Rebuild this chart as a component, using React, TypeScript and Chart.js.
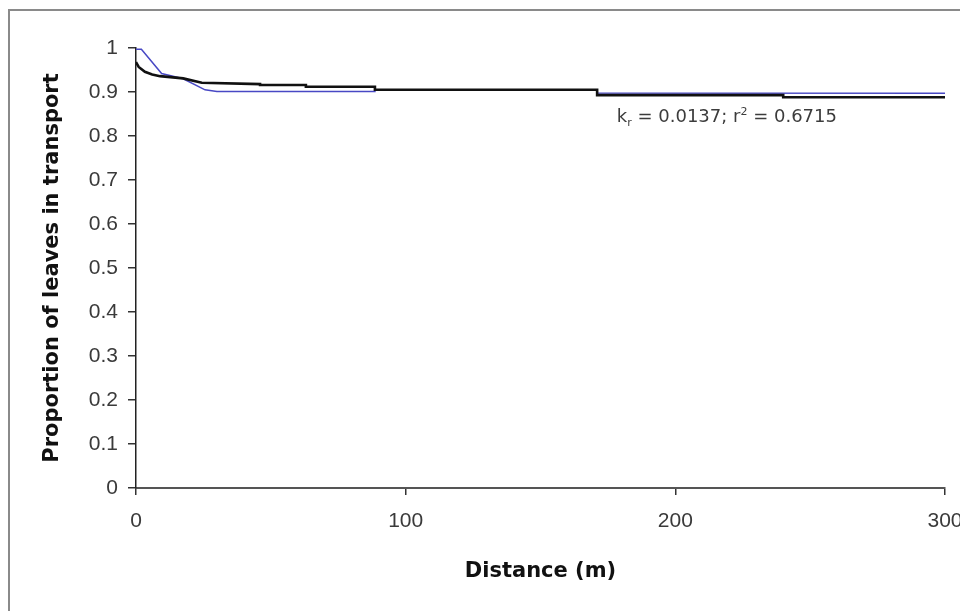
import React, { useEffect, useRef } from "react";
import { Chart, registerables } from "chart.js";

Chart.register(...registerables);

// Blue series (observed)
const blueDistance = [0, 2, 9.5, 17.5, 25.6, 30, 88.6, 88.6, 171, 171, 300];
const blueProportion = [0.997, 0.997, 0.942, 0.93, 0.905, 0.901, 0.901, 0.904, 0.904, 0.898, 0.897];

// Black series (model fit)
const blackDistance = [0, 1, 3.3, 6, 8.9, 17.5, 24.4, 46, 46, 63, 63, 88.6, 88.6, 171, 171, 240, 240, 300];
const blackProportion = [0.968, 0.957, 0.946, 0.94, 0.936, 0.931, 0.921, 0.918, 0.916, 0.916, 0.912, 0.912, 0.905, 0.905, 0.893, 0.893, 0.888, 0.888];

const xTicks = [0, 100, 200, 300];
const yTicks = [0, 0.1, 0.2, 0.3, 0.4, 0.5, 0.6, 0.7, 0.8, 0.9, 1];

const xTitle = "Distance (m)";
const yTitle = "Proportion of leaves in transport";

const annotationX = 178.3;
const annotationY = 0.842;
const annotationParts = { k: "k", kSub: "r", mid: " = 0.0137; r", sup: "2", end: " = 0.6715" };

const annotationPlugin = {
  id: "fitAnnotation",
  afterDatasetsDraw(chart: any) {
    const { ctx, scales } = chart;
    const x0 = scales.x.getPixelForValue(annotationX);
    const y0 = scales.y.getPixelForValue(annotationY);
    ctx.save();
    ctx.fillStyle = "#3c3c3c";
    ctx.textBaseline = "middle";
    ctx.textAlign = "left";
    const main = "18px 'DejaVu Sans', Arial, sans-serif";
    const small = "11px 'DejaVu Sans', Arial, sans-serif";
    let x = x0;
    ctx.font = main;
    ctx.fillText(annotationParts.k, x, y0);
    x += ctx.measureText(annotationParts.k).width;
    ctx.font = small;
    ctx.fillText(annotationParts.kSub, x, y0 + 6);
    x += ctx.measureText(annotationParts.kSub).width;
    ctx.font = main;
    ctx.fillText(annotationParts.mid, x, y0);
    x += ctx.measureText(annotationParts.mid).width;
    ctx.font = small;
    ctx.fillText(annotationParts.sup, x, y0 - 5);
    x += ctx.measureText(annotationParts.sup).width;
    ctx.font = main;
    ctx.fillText(annotationParts.end, x, y0);
    ctx.restore();
  },
};

export default function App() {
  const canvasRef = useRef<HTMLCanvasElement | null>(null);

  useEffect(() => {
    if (!canvasRef.current) return;
    const tickFont = { family: "'Liberation Sans', Arial, sans-serif", size: 21 };
    const titleFont = { family: "'DejaVu Sans', Arial, sans-serif", size: 21, weight: "bold" as const };
    const chart = new Chart(canvasRef.current, {
      type: "line",
      data: {
        datasets: [
          {
            label: "model",
            data: blackDistance.map((d, i) => ({ x: d, y: blackProportion[i] })),
            borderColor: "#111111",
            borderWidth: 2.6,
            pointRadius: 0,
            tension: 0,
            order: 0,
          },
          {
            label: "observed",
            data: blueDistance.map((d, i) => ({ x: d, y: blueProportion[i] })),
            borderColor: "#4848c4",
            borderWidth: 1.5,
            pointRadius: 0,
            tension: 0,
            order: 1,
          },
        ],
      },
      options: {
        animation: false,
        responsive: false,
        devicePixelRatio: 1,
        layout: { padding: { top: 48, right: 15, left: 0, bottom: 0 } },
        plugins: { legend: { display: false }, tooltip: { enabled: false } },
        scales: {
          x: {
            type: "linear",
            min: 0,
            max: 300,
            afterBuildTicks: (scale: any) => {
              scale.ticks = xTicks.map((v) => ({ value: v }));
            },
            afterFit: (scale: any) => {
              scale.height = 123;
              scale.paddingLeft = 0;
              scale.paddingRight = 0;
            },
            grid: { drawOnChartArea: false, drawTicks: true, tickLength: 7, color: "#333333", lineWidth: 1.5 },
            border: { display: true, color: "#555555", width: 2 },
            ticks: { color: "#3a3a3a", font: tickFont, padding: 14, maxRotation: 0 },
            title: { display: true, text: xTitle, color: "#111111", font: titleFont, padding: { top: 0, bottom: 27 } },
          },
          y: {
            type: "linear",
            min: 0,
            max: 1,
            afterBuildTicks: (scale: any) => {
              scale.ticks = yTicks.map((v) => ({ value: v }));
            },
            afterFit: (scale: any) => {
              scale.width = 136;
              scale.paddingTop = 0;
              scale.paddingBottom = 0;
            },
            grid: { drawOnChartArea: false, drawTicks: true, tickLength: 8, color: "#333333", lineWidth: 1.5 },
            border: { display: true, color: "#222222", width: 1.5 },
            ticks: {
              color: "#3a3a3a",
              font: tickFont,
              padding: 10,
              callback: (v: any) => String(Math.round(Number(v) * 10) / 10),
            },
            title: { display: true, text: yTitle, color: "#111111", font: titleFont, padding: { top: 40, bottom: 0 } },
          },
        },
      },
      plugins: [annotationPlugin],
    });
    return () => chart.destroy();
  }, []);

  return (
    <div style={{ position: "fixed", left: 0, top: 0, width: 960, height: 611, background: "#ffffff", overflow: "hidden" }}>
      <div
        style={{
          position: "absolute",
          left: 8,
          top: 9,
          width: 1000,
          height: 700,
          borderLeft: "2px solid #8a8a8a",
          borderTop: "2px solid #8a8a8a",
        }}
      />
      <canvas ref={canvasRef} width={960} height={611} style={{ position: "absolute", left: 0, top: 0 }} />
    </div>
  );
}
